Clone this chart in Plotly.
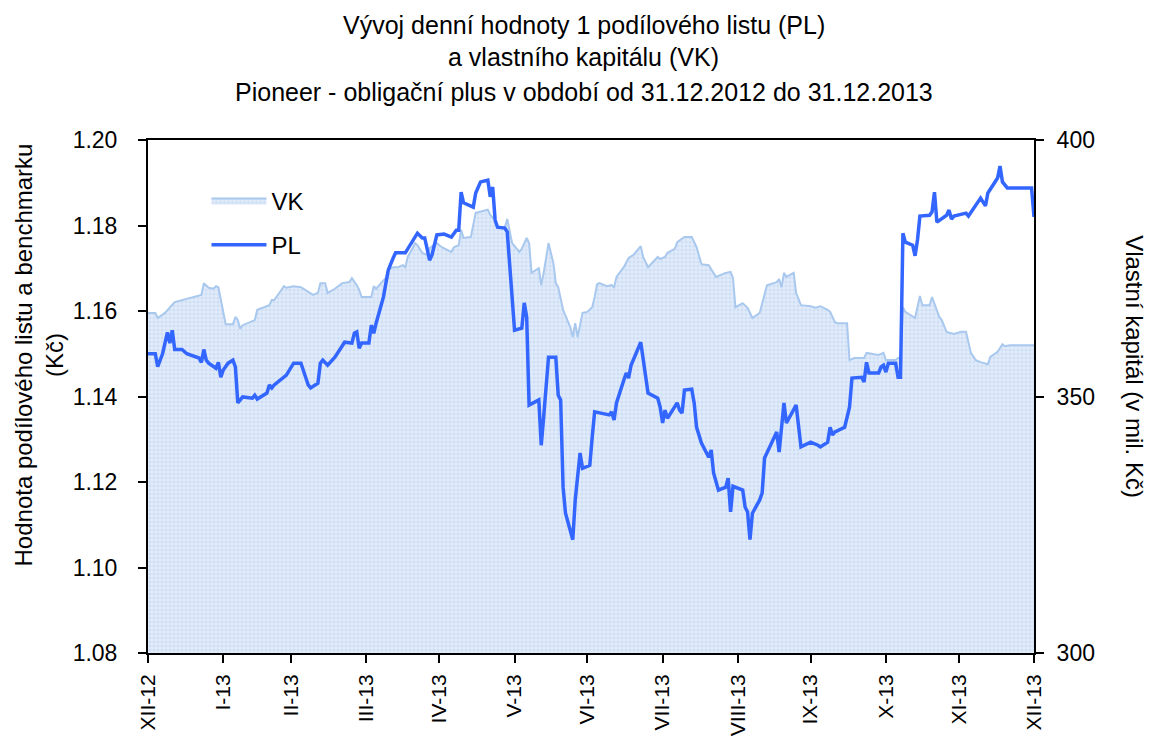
import plotly.graph_objects as go

# ---- PL: value of one unit (left axis, Kč) ----
pl_dates = [
    "2012-12-31",
    "2013-01-03", "2013-01-04", "2013-01-06", "2013-01-08", "2013-01-09", "2013-01-10", "2013-01-11",
    "2013-01-14", "2013-01-16", "2013-01-21", "2013-01-22", "2013-01-23", "2013-01-24", "2013-01-25",
    "2013-01-28", "2013-01-29", "2013-01-30", "2013-01-31",
    "2013-02-02", "2013-02-04", "2013-02-05", "2013-02-06", "2013-02-08", "2013-02-12", "2013-02-13",
    "2013-02-14", "2013-02-18", "2013-02-19", "2013-02-20", "2013-02-21", "2013-02-26",
    "2013-03-01", "2013-03-04", "2013-03-07", "2013-03-08", "2013-03-11", "2013-03-12", "2013-03-13",
    "2013-03-15", "2013-03-18", "2013-03-20", "2013-03-22", "2013-03-25", "2013-03-26", "2013-03-27",
    "2013-03-28", "2013-03-29",
    "2013-04-01", "2013-04-02", "2013-04-03", "2013-04-04", "2013-04-05", "2013-04-07", "2013-04-08",
    "2013-04-09", "2013-04-11", "2013-04-12", "2013-04-16", "2013-04-18", "2013-04-21", "2013-04-23",
    "2013-04-24", "2013-04-26", "2013-04-27", "2013-04-29",
    "2013-05-02", "2013-05-05", "2013-05-07", "2013-05-08", "2013-05-09", "2013-05-10", "2013-05-14",
    "2013-05-15", "2013-05-16", "2013-05-17", "2013-05-20", "2013-05-21", "2013-05-22", "2013-05-23",
    "2013-05-24", "2013-05-27", "2013-05-28", "2013-05-30", "2013-05-31",
    "2013-06-03", "2013-06-04", "2013-06-05", "2013-06-06", "2013-06-10", "2013-06-11", "2013-06-12",
    "2013-06-14", "2013-06-17", "2013-06-18", "2013-06-19", "2013-06-20", "2013-06-21", "2013-06-24",
    "2013-06-25", "2013-06-27", "2013-06-28",
    "2013-07-01", "2013-07-02", "2013-07-03", "2013-07-09", "2013-07-10", "2013-07-11", "2013-07-12",
    "2013-07-15", "2013-07-16", "2013-07-17", "2013-07-18", "2013-07-22", "2013-07-24", "2013-07-25",
    "2013-07-29", "2013-07-30", "2013-07-31",
    "2013-08-01", "2013-08-02", "2013-08-05", "2013-08-06", "2013-08-07", "2013-08-08", "2013-08-09",
    "2013-08-12", "2013-08-13", "2013-08-14", "2013-08-16", "2013-08-19", "2013-08-20", "2013-08-21",
    "2013-08-23", "2013-08-26", "2013-08-27", "2013-08-28", "2013-08-29",
    "2013-09-02", "2013-09-03", "2013-09-04", "2013-09-05", "2013-09-06", "2013-09-09", "2013-09-10",
    "2013-09-11", "2013-09-12", "2013-09-16", "2013-09-17", "2013-09-18", "2013-09-19", "2013-09-20",
    "2013-09-24", "2013-09-26", "2013-09-30",
    "2013-10-03", "2013-10-04", "2013-10-07", "2013-10-08", "2013-10-09", "2013-10-10", "2013-10-14",
    "2013-10-15", "2013-10-16", "2013-10-17", "2013-10-21", "2013-10-22", "2013-10-23", "2013-10-24",
    "2013-10-28", "2013-10-29", "2013-10-30", "2013-10-31",
    "2013-11-01", "2013-11-04", "2013-11-05", "2013-11-06", "2013-11-07", "2013-11-08", "2013-11-11",
    "2013-11-12", "2013-11-13", "2013-11-14", "2013-11-18", "2013-11-19", "2013-11-20", "2013-11-21",
    "2013-11-25", "2013-11-26", "2013-11-27", "2013-11-28",
    "2013-12-03", "2013-12-04", "2013-12-09", "2013-12-11", "2013-12-12", "2013-12-16", "2013-12-17",
    "2013-12-18", "2013-12-20", "2013-12-30", "2013-12-31",
]
pl_values = [
    1.150,
    1.150, 1.147, 1.150, 1.155, 1.1525, 1.1555, 1.151,
    1.151, 1.150, 1.149, 1.148, 1.151, 1.1485, 1.1478,
    1.1466, 1.148, 1.1445, 1.1462,
    1.1478, 1.1485, 1.1469, 1.1385, 1.1399, 1.1396, 1.1403,
    1.1394, 1.1408, 1.1427, 1.142, 1.1427, 1.145,
    1.1478, 1.1478, 1.1427, 1.142, 1.1431, 1.1478, 1.1485,
    1.1473, 1.1492, 1.1509, 1.1527, 1.1525, 1.1548, 1.1551,
    1.1513, 1.1525,
    1.1525, 1.1567, 1.1548, 1.1572, 1.159, 1.1633, 1.1665,
    1.1696, 1.1724, 1.1736, 1.1736, 1.1754, 1.1782, 1.1771,
    1.1771, 1.1719, 1.1731, 1.1778,
    1.178, 1.1773, 1.1789, 1.1789, 1.1878, 1.1853, 1.1843,
    1.1876, 1.189, 1.1902, 1.1906, 1.1867, 1.189, 1.1813,
    1.1796, 1.1794, 1.1785, 1.1619, 1.1555,
    1.156, 1.1619, 1.1586, 1.138, 1.1392, 1.1286, 1.1352,
    1.1492, 1.1492, 1.1403, 1.1392, 1.1188, 1.1127, 1.1065,
    1.1158, 1.1268, 1.1232,
    1.1239, 1.1305, 1.1364, 1.1357, 1.1364, 1.1345, 1.1385,
    1.1438, 1.1455, 1.1443, 1.1473, 1.1527, 1.145, 1.1408,
    1.1396, 1.1375, 1.1338,
    1.1368, 1.1349, 1.1375, 1.1385, 1.1368, 1.1361, 1.1415,
    1.1417, 1.1385, 1.1328, 1.1291, 1.1258, 1.1275, 1.1221,
    1.1181, 1.1188, 1.1209, 1.113, 1.119,
    1.1181, 1.1141, 1.113, 1.1065, 1.1127, 1.1158, 1.1174,
    1.1256, 1.1268, 1.1317, 1.127, 1.1333, 1.1385, 1.1338,
    1.138, 1.1282, 1.1293,
    1.1286, 1.1282, 1.1293, 1.1328, 1.131, 1.1317, 1.1328,
    1.1356, 1.1375, 1.1443, 1.1445, 1.1434, 1.148, 1.1455,
    1.1455, 1.1469, 1.1473, 1.1457,
    1.1478, 1.1478, 1.1445, 1.1445, 1.1782, 1.1761, 1.1754,
    1.1729, 1.1766, 1.1822, 1.1824, 1.1832, 1.1878, 1.1808,
    1.1824, 1.1836, 1.1815, 1.1822,
    1.1829, 1.1822, 1.1864, 1.1846, 1.1876, 1.1911, 1.1939,
    1.1902, 1.1888, 1.1888, 1.182,
]

# ---- VK: equity in mil. Kč (right axis) ----
vk_dates = [
    "2012-12-31",
    "2013-01-03", "2013-01-04", "2013-01-07", "2013-01-11", "2013-01-14", "2013-01-18", "2013-01-22",
    "2013-01-23", "2013-01-25", "2013-01-27", "2013-01-28", "2013-01-29", "2013-01-30",
    "2013-02-01", "2013-02-04", "2013-02-05", "2013-02-06", "2013-02-07", "2013-02-08", "2013-02-11",
    "2013-02-13", "2013-02-14", "2013-02-17", "2013-02-19", "2013-02-20", "2013-02-21", "2013-02-24",
    "2013-02-25", "2013-02-26",
    "2013-03-01", "2013-03-04", "2013-03-07", "2013-03-09", "2013-03-11", "2013-03-12", "2013-03-14",
    "2013-03-15", "2013-03-18", "2013-03-21", "2013-03-24", "2013-03-25", "2013-03-27", "2013-03-28",
    "2013-03-29",
    "2013-04-02", "2013-04-03", "2013-04-04", "2013-04-06", "2013-04-08", "2013-04-09", "2013-04-11",
    "2013-04-13", "2013-04-15", "2013-04-16", "2013-04-17", "2013-04-19", "2013-04-20", "2013-04-21",
    "2013-04-23", "2013-04-25", "2013-04-26", "2013-04-29",
    "2013-05-01", "2013-05-05", "2013-05-06", "2013-05-08", "2013-05-09", "2013-05-10", "2013-05-13",
    "2013-05-15", "2013-05-17", "2013-05-20", "2013-05-21", "2013-05-23", "2013-05-24", "2013-05-27",
    "2013-05-28", "2013-05-30",
    "2013-06-02", "2013-06-03", "2013-06-05", "2013-06-06", "2013-06-07", "2013-06-10", "2013-06-11",
    "2013-06-12", "2013-06-14", "2013-06-16", "2013-06-17", "2013-06-18", "2013-06-20", "2013-06-23",
    "2013-06-24", "2013-06-25", "2013-06-26", "2013-06-28", "2013-06-30",
    "2013-07-02", "2013-07-03", "2013-07-04", "2013-07-05", "2013-07-08", "2013-07-10", "2013-07-11",
    "2013-07-12", "2013-07-15", "2013-07-17", "2013-07-19", "2013-07-22", "2013-07-23", "2013-07-25",
    "2013-07-29", "2013-07-30",
    "2013-08-01", "2013-08-02", "2013-08-05", "2013-08-06", "2013-08-09", "2013-08-12", "2013-08-14",
    "2013-08-16", "2013-08-19", "2013-08-22", "2013-08-26", "2013-08-28", "2013-08-29", "2013-08-30",
    "2013-09-02", "2013-09-04", "2013-09-06", "2013-09-09", "2013-09-10", "2013-09-12", "2013-09-16",
    "2013-09-17", "2013-09-18", "2013-09-19", "2013-09-20", "2013-09-23", "2013-09-24", "2013-09-26",
    "2013-09-30",
    "2013-10-02", "2013-10-04", "2013-10-07", "2013-10-08", "2013-10-10", "2013-10-11", "2013-10-15",
    "2013-10-16", "2013-10-18", "2013-10-22", "2013-10-23", "2013-10-28", "2013-10-30", "2013-10-31",
    "2013-11-04", "2013-11-05", "2013-11-06", "2013-11-07", "2013-11-08", "2013-11-12", "2013-11-14",
    "2013-11-15", "2013-11-18", "2013-11-19", "2013-11-22", "2013-11-23", "2013-11-25", "2013-11-28",
    "2013-12-01", "2013-12-03", "2013-12-05", "2013-12-07", "2013-12-09", "2013-12-12", "2013-12-13",
    "2013-12-16", "2013-12-18", "2013-12-19", "2013-12-21", "2013-12-30", "2013-12-31",
]
vk_values = [
    366.3,
    366.3, 365.3, 366.3, 368.4, 368.8, 369.2, 369.8,
    372.1, 371.2, 371.0, 371.5, 371.3, 368.8,
    364.1, 364.1, 365.5, 364.9, 363.2, 363.9, 364.5,
    364.9, 366.9, 367.4, 367.8, 368.8, 368.8, 370.8,
    371.5, 371.2,
    371.5, 371.3, 370.4, 369.8, 370.2, 372.1, 372.1,
    370.2, 371.0, 372.1, 372.3, 373.1, 371.7, 370.8,
    369.4,
    369.4, 371.5, 371.0, 372.1, 373.1, 374.7, 375.2,
    375.2, 375.6, 375.2, 377.2, 378.9, 379.9, 379.5,
    378.0, 377.6, 378.9, 379.9,
    379.1, 378.2, 379.1, 379.5, 382.5, 380.9, 381.1,
    385.8, 386.0, 386.4, 385.4, 384.4, 383.0, 383.0,
    384.6, 379.9,
    378.2, 378.8, 380.9, 379.9, 374.1, 375.0, 371.7,
    374.1, 379.9, 376.0, 372.1, 371.3, 366.9, 363.5,
    361.6, 364.3, 361.6, 366.3, 366.5,
    367.4, 369.4, 371.9, 372.1, 371.5, 371.7, 371.3,
    373.3, 375.2, 377.0, 377.6, 379.3, 377.2, 375.2,
    377.2, 376.8,
    377.2, 378.0, 378.8, 380.1, 381.1, 381.1, 379.1,
    375.8, 375.6, 373.3, 374.1, 374.3, 373.1, 367.4,
    368.2, 367.3, 365.3, 366.3, 368.2, 371.7, 372.3,
    372.9, 371.3, 374.1, 373.3, 374.1, 370.2, 367.8,
    367.6,
    367.3, 367.6, 366.9, 366.5, 364.5, 364.3, 364.3,
    357.1, 357.5, 357.5, 358.5, 358.1, 358.5, 357.1,
    357.1, 357.5, 357.5, 367.4, 366.5, 365.3, 369.6,
    367.8, 367.8, 369.4, 365.5, 364.9, 362.6, 362.2,
    362.6, 362.6, 358.5, 357.1, 356.7, 356.3, 357.7,
    358.7, 360.2, 359.8, 360.0, 360.0, 360.0,
]

tick_dates = ["2012-12-31", "2013-01-31", "2013-02-28", "2013-03-31", "2013-04-30",
              "2013-05-31", "2013-06-30", "2013-07-31", "2013-08-31", "2013-09-30",
              "2013-10-31", "2013-11-30", "2013-12-31"]
tick_labels = ["XII-12", "I-13", "II-13", "III-13", "IV-13", "V-13", "VI-13",
               "VII-13", "VIII-13", "IX-13", "X-13", "XI-13", "XII-13"]

pl_ticks = [1.08, 1.10, 1.12, 1.14, 1.16, 1.18, 1.20]
vk_ticks = [300, 350, 400]

title_lines = ["Vývoj denní hodnoty 1 podílového listu (PL)",
               "a vlastního kapitálu (VK)",
               "Pioneer - obligační plus v období od 31.12.2012 do 31.12.2013"]

FONT = "Liberation Sans, Arial, sans-serif"
BLACK = "#000000"

fig = go.Figure()
fig.add_trace(go.Scatter(
    x=vk_dates, y=vk_values, name="VK", mode="lines", yaxis="y",
    line=dict(color="#a9c8ee", width=2),
    fill="tozeroy", fillcolor="#dbe7f8",
    fillpattern=dict(shape=".", fgcolor="#bcd2f1", bgcolor="#e1ebf9", size=4, solidity=0.45),
    legendgroup="a",
))
fig.add_trace(go.Scatter(
    x=pl_dates, y=pl_values, name="PL", mode="lines", yaxis="y2",
    line=dict(color="#3366ff", width=3.5),
    legendgroup="b",
))

# page body has an 8px default margin, so the figure is 8px smaller than the window
fig.update_layout(
    width=1144, height=732,
    margin=dict(l=140, r=118, t=132, b=87, autoexpand=False),
    paper_bgcolor="white", plot_bgcolor="white",
    font=dict(family=FONT, size=22, color=BLACK),
    showlegend=True,
    legend=dict(x=0.066, y=0.925, xanchor="left", yanchor="top",
                bgcolor="rgba(0,0,0,0)", font=dict(size=24),
                itemwidth=55, tracegroupgap=10),
    xaxis=dict(type="date", range=["2012-12-31", "2013-12-31"],
               tickvals=tick_dates, ticktext=tick_labels, tickangle=-90,
               ticks="outside", ticklen=8, tickwidth=2, tickcolor=BLACK,
               showline=True, linewidth=2, linecolor=BLACK, mirror=True,
               showgrid=False, zeroline=False, ticklabelstandoff=3,
               automargin=False, tickfont=dict(size=21)),
    yaxis=dict(range=[300, 400], tickvals=vk_ticks, side="right",
               ticks="outside", ticklen=8, tickwidth=2, tickcolor=BLACK,
               showline=True, linewidth=2, linecolor=BLACK,
               showgrid=False, zeroline=False, ticklabelstandoff=8,
               automargin=False, tickfont=dict(size=23)),
    yaxis2=dict(range=[1.08, 1.20], tickvals=pl_ticks, tickformat=".2f",
                overlaying="y", side="left",
                ticks="outside", ticklen=8, tickwidth=2, tickcolor=BLACK,
                showline=True, linewidth=2, linecolor=BLACK,
                showgrid=False, zeroline=False, ticklabelstandoff=16,
                automargin=False, tickfont=dict(size=23)),
)

title_y = [1.224, 1.1618, 1.0936]
for txt, yy in zip(title_lines, title_y):
    fig.add_annotation(text=txt, x=0.492, y=yy, xref="paper", yref="paper",
                       xanchor="center", yanchor="middle", showarrow=False,
                       font=dict(size=25, family=FONT, color=BLACK))

fig.add_annotation(text="Hodnota podílového listu a benchmarku<br>(Kč)",
                   x=-0.123, y=0.58, xref="paper", yref="paper",
                   xanchor="center", yanchor="middle", textangle=-90,
                   showarrow=False, font=dict(size=24, family=FONT, color=BLACK))
fig.add_annotation(text="Vlastní kapitál (v mil. Kč)",
                   x=1.1135, y=0.558, xref="paper", yref="paper",
                   xanchor="center", yanchor="middle", textangle=90,
                   showarrow=False, font=dict(size=24, family=FONT, color=BLACK))

fig.write_html("out.html")
